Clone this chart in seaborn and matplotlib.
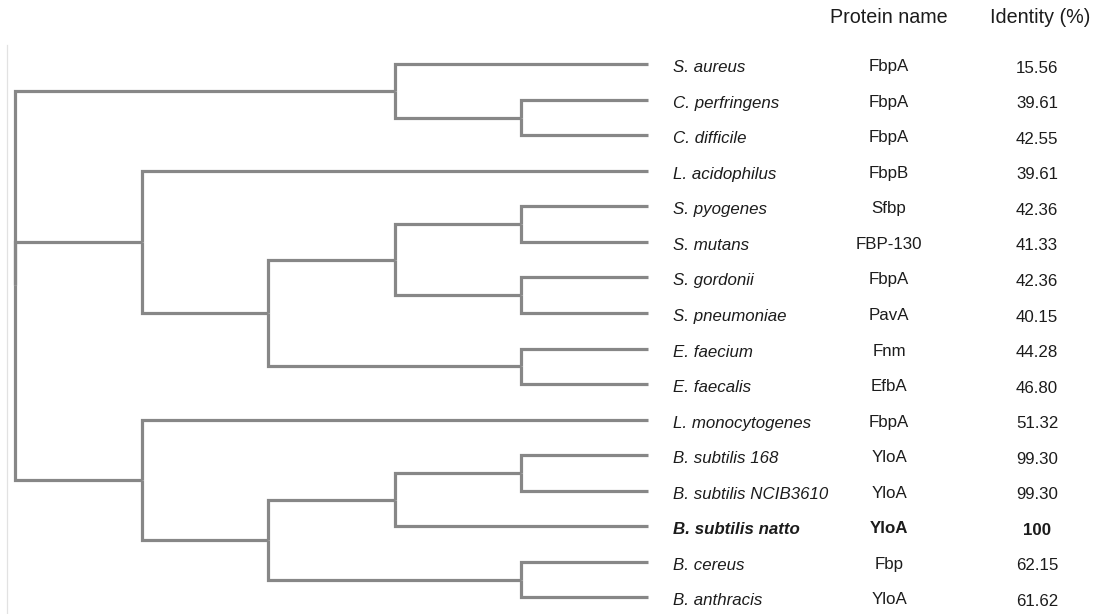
import matplotlib
matplotlib.use("Agg")
import matplotlib.pyplot as plt
import matplotlib.transforms as mtransforms
import numpy as np
import pandas as pd
import seaborn as sns

# Leaf table (top to bottom)
species = [
    "S. aureus", "C. perfringens", "C. difficile", "L. acidophilus",
    "S. pyogenes", "S. mutans", "S. gordonii", "S. pneumoniae",
    "E. faecium", "E. faecalis", "L. monocytogenes", "B. subtilis 168",
    "B. subtilis NCIB3610", "B. subtilis natto", "B. cereus", "B. anthracis",
]
proteins = [
    "FbpA", "FbpA", "FbpA", "FbpB", "Sfbp", "FBP-130", "FbpA", "PavA",
    "Fnm", "EfbA", "FbpA", "YloA", "YloA", "YloA", "Fbp", "YloA",
]
identity = [
    "15.56", "39.61", "42.55", "39.61", "42.36", "41.33", "42.36", "40.15",
    "44.28", "46.80", "51.32", "99.30", "99.30", "100", "62.15", "61.62",
]
highlight = "B. subtilis natto"

# Cladogram topology: (depth level, [children]); ints are leaf indices
tree = (0, [
    (3, [0, (4, [1, 2])]),
    (1, [3, (2, [(3, [(4, [4, 5]), (4, [6, 7])]), (4, [8, 9])])]),
    (1, [10, (2, [(3, [(4, [11, 12]), 13]), (4, [14, 15])])]),
])
LEAF_LEVEL = 5


def position(node):
    if isinstance(node, int):
        return LEAF_LEVEL, float(node)
    level, kids = node
    ys = [position(k)[1] for k in kids]
    return float(level), (ys[0] + ys[-1]) / 2.0


def collect_edges(node, rows, counter):
    if isinstance(node, int):
        return
    px, py = position(node)
    for child in node[1]:
        cx, cy = position(child)
        eid = counter[0]
        counter[0] += 1
        for x, y in ((px, py), (px, cy), (cx, cy)):
            rows.append({"edge": eid, "x": x, "y": y})
        collect_edges(child, rows, counter)


rows = []
collect_edges(tree, rows, [0])
edges = pd.DataFrame(rows)

# ---- figure & layout (pixels) ----
W, H, DPI = 1099, 614, 100
sns.set_style("white")
plt.rcParams["font.family"] = ["Liberation Sans", "DejaVu Sans"]

fig = plt.figure(figsize=(W / DPI, H / DPI), dpi=DPI)

ax_left_px, root_px, leaf_px = 6.5, 15.0, 648.0
ax_top_px, ax_bottom_px = 45.0, 614.0
first_row_px, row_step_px = 64.2, 35.55

ax = fig.add_axes([ax_left_px / W, 1 - ax_bottom_px / H,
                   (leaf_px - ax_left_px) / W, (ax_bottom_px - ax_top_px) / H])

sns.lineplot(data=edges, x="x", y="y", units="edge", estimator=None,
             sort=False, color="#878787", linewidth=2.3, legend=False, ax=ax)
for ln in ax.lines:
    ln.set_solid_capstyle("butt")
    ln.set_solid_joinstyle("miter")
    ln.set_clip_on(False)

px_per_level = (leaf_px - root_px) / LEAF_LEVEL
ax.set_xlim(-(root_px - ax_left_px) / px_per_level, LEAF_LEVEL)
ax.set_ylim((ax_bottom_px - first_row_px) / row_step_px,
            -(first_row_px - ax_top_px) / row_step_px)
ax.set_xticks([])
ax.set_yticks([])
ax.set_xlabel("")
ax.set_ylabel("")
sns.despine(ax=ax, left=False, bottom=True, top=True, right=True)
ax.spines["left"].set_color("#e2e2e2")
ax.spines["left"].set_linewidth(0.9)

# ---- label columns ----
blend = mtransforms.blended_transform_factory(fig.transFigure, ax.transData)


def shifted(dy_px):
    return blend + mtransforms.ScaledTranslation(0, -dy_px / DPI, fig.dpi_scale_trans)


txt_color = "#1c1c1c"
species_x, protein_x, ident_x = 673, 889, 1037
for i, (sp, pr, idv) in enumerate(zip(species, proteins, identity)):
    weight = "bold" if sp == highlight else "normal"
    ax.text(species_x / W, i, sp, transform=shifted(8), ha="left",
            va="baseline", fontsize=12.2, style="italic", fontweight=weight,
            color=txt_color, clip_on=False)
    ax.text(protein_x / W, i, pr, transform=shifted(7), ha="center",
            va="baseline", fontsize=12.2, fontweight=weight,
            color=txt_color, clip_on=False)
    ax.text(ident_x / W, i, idv, transform=shifted(8.5), ha="center",
            va="baseline", fontsize=12.2, fontweight=weight,
            color=txt_color, clip_on=False)

fig.text(889 / W, 1 - 22.7 / H, "Protein name", ha="center", va="baseline",
         fontsize=14.2, color=txt_color)
fig.text(1040 / W, 1 - 22.7 / H, "Identity (%)", ha="center", va="baseline",
         fontsize=14.2, color=txt_color)

fig.savefig("out.png", dpi=DPI)
